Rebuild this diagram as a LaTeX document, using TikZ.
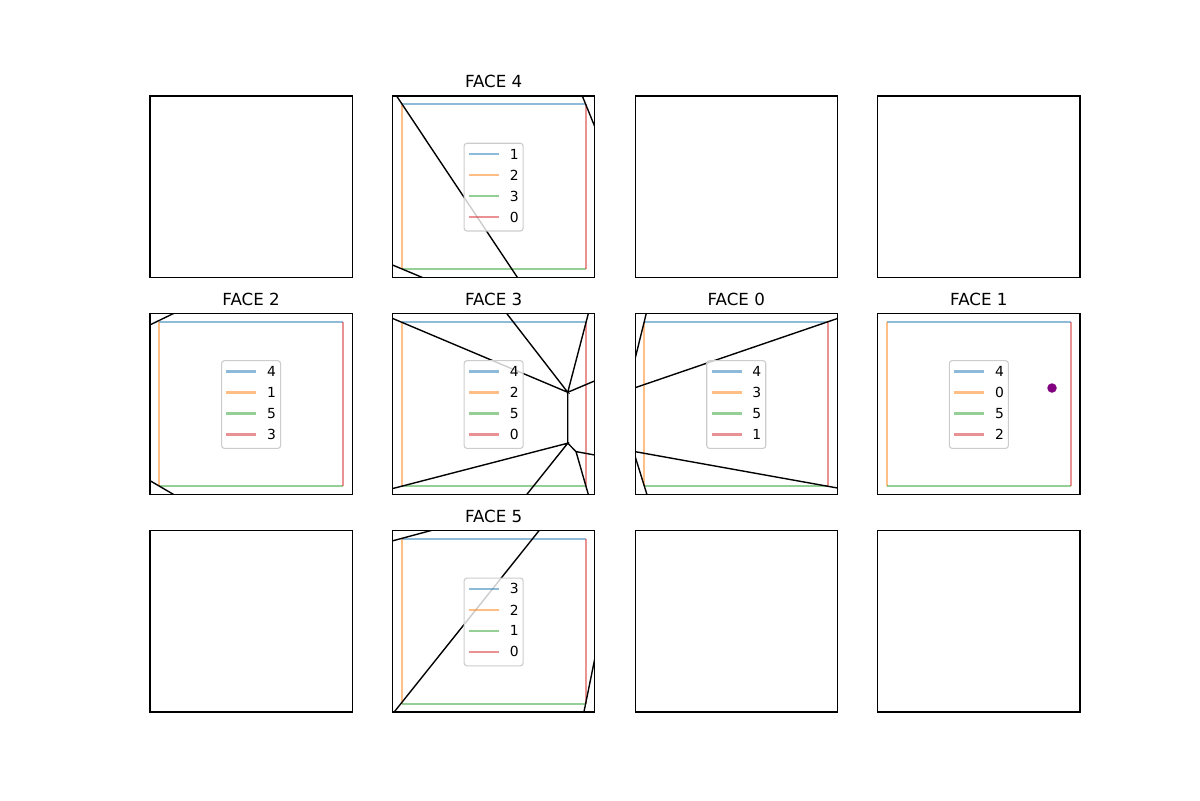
\documentclass[tikz,border=0pt]{standalone}
\usepackage{fontspec}
\setmainfont{DejaVu Sans}
\usetikzlibrary{arrows.meta}
\definecolor{tabblue}{HTML}{1F77B4}
\definecolor{taborange}{HTML}{FF7F0E}
\definecolor{tabgreen}{HTML}{2CA02C}
\definecolor{tabred}{HTML}{D62728}
\definecolor{seedpurple}{RGB}{128,0,128}
\tikzset{
	axbox/.style={draw=black, line width=0.0222cm},
	face/.style={x=3.6758cm, y=3.2942cm},
	rim/.style={line width=0.0417cm, draw opacity=0.5},
	cell/.style={draw=black, line width=0.0278cm},
	facetitle/.style={anchor=base, inner sep=0, font=\fontsize{9.49}{11}\selectfont},
	keybox/.style={draw=black!20, fill=white, fill opacity=0.8, rounded corners=0.056cm, line width=0.0222cm},
	keytext/.style={anchor=west, inner sep=0, font=\fontsize{7.9}{9}\selectfont},
	seedpt/.style={circle, fill=seedpurple, inner sep=0, minimum size=0.19cm},
	pics/squareedges/.style={code={
		\draw[rim,tabblue] (0,1) -- (1,1);
		\draw[rim,taborange] (0,0) -- (0,1);
		\draw[rim,tabgreen] (0,0) -- (1,0);
		\draw[rim,tabred] (1,0) -- (1,1);
	}},
	pics/facekey/.style n args={4}{code={
		\begin{scope}[x=0.02cm, y=0.02cm]
			\draw[keybox] (-29.5,-44.4) rectangle (29.5,43.3);
			\foreach \lab/\col/\yy [count=\i] in {#1/tabblue/32.5, #2/taborange/11.5, #3/tabgreen/-9.5, #4/tabred/-30.5}{
				\draw[rim,\col] (-24.7,\yy) -- (5.3,\yy);
				\node[keytext] (-k\i) at (15.8,\yy) {\lab};
			}
		\end{scope}
	}}
}

\begin{document}
\begin{tikzpicture}
	\useasboundingbox (0,0) rectangle (24,16);
	
	%%%% empty panels
	\foreach \px/\py in {3/10.4565, 12.7035/10.4565, 17.5552/10.4565, 3/1.76, 12.7035/1.76, 17.5552/1.76}
		\draw[axbox] (\px,\py) rectangle ++(4.0434,3.6236);
	
	%%%% FACE 4
	\begin{scope}[shift={(7.8517,10.4565)}, face, shift={(0.05,0.05)}]
		\pic {squareedges};
		\begin{scope}
			\clip (-0.05,-0.05) rectangle (1.05,1.05);
			\draw[cell] (-0.058,1.1) -- (0.658,-0.1);
			\draw[cell] (0.964,1.1) -- (1.1,0.727);
			\draw[cell] (-0.1,0.047) -- (0.215,-0.1);
		\end{scope}
		\pic (f4) at (0.5,0.5) {facekey={1}{2}{3}{0}};
		\draw[axbox] (-0.05,-0.05) rectangle (1.05,1.05);
		\node[facetitle] (t4) at (0.5,1.1006) {FACE 4};
	\end{scope}
	
	%%%% FACE 2
	\begin{scope}[shift={(3,6.1082)}, face, shift={(0.05,0.05)}]
		\pic {squareedges};
		\begin{scope}
			\clip (-0.05,-0.05) rectangle (1.05,1.05);
			\draw[cell] (-0.1,0.953) -- (0.171,1.1);
			\draw[cell] (-0.1,0.067) -- (0.156,-0.1);
		\end{scope}
		\pic (f2) at (0.5,0.5) {facekey={4}{1}{5}{3}};
		\draw[axbox] (-0.05,-0.05) rectangle (1.05,1.05);
		\node[facetitle] (t2) at (0.5,1.1006) {FACE 2};
	\end{scope}
	
	%%%% FACE 3
	\begin{scope}[shift={(7.8517,6.1082)}, face, shift={(0.05,0.05)}]
		\pic {squareedges};
		\begin{scope}
			\clip (-0.05,-0.05) rectangle (1.05,1.05);
			\coordinate (v1) at (0.903,0.571);
			\coordinate (v2) at (0.903,0.262);
			\coordinate (v3) at (0.948,0.211);
			\draw[cell] (-0.1,1.043) -- (v1) -- (0.536,1.1);
			\draw[cell] (1.027,1.1) -- (v1) -- (1.1,0.664);
			\draw[cell] (v1) -- (v2) -- (v3);
			\draw[cell] (-0.1,-0.028) -- (v2) -- (0.644,-0.1);
			\draw[cell] (1.1,0.180) -- (v3) -- (1.028,-0.1);
		\end{scope}
		\pic (f3) at (0.5,0.5) {facekey={4}{2}{5}{0}};
		\draw[axbox] (-0.05,-0.05) rectangle (1.05,1.05);
		\node[facetitle] (t3) at (0.5,1.1006) {FACE 3};
	\end{scope}
	
	%%%% FACE 0
	\begin{scope}[shift={(12.7035,6.1082)}, face, shift={(0.05,0.05)}]
		\pic {squareedges};
		\begin{scope}
			\clip (-0.05,-0.05) rectangle (1.05,1.05);
			\draw[cell] (0.0215,1.1) -- (-0.1,0.552);
			\draw[cell] (-0.1,0.580) -- (1.1,1.038);
			\draw[cell] (-0.1,0.2205) -- (1.1,-0.020);
			\draw[cell] (-0.1,0.360) -- (0.028,-0.1);
		\end{scope}
		\pic (f0) at (0.5,0.5) {facekey={4}{3}{5}{1}};
		\draw[axbox] (-0.05,-0.05) rectangle (1.05,1.05);
		\node[facetitle] (t0) at (0.5,1.1006) {FACE 0};
	\end{scope}
	
	%%%% FACE 1
	\begin{scope}[shift={(17.5552,6.1082)}, face, shift={(0.05,0.05)}]
		\pic {squareedges};
		\pic (f1) at (0.5,0.5) {facekey={4}{0}{5}{2}};
		\node[seedpt] (p1) at (0.898,0.597) {};
		\draw[axbox] (-0.05,-0.05) rectangle (1.05,1.05);
		\node[facetitle] (t1) at (0.5,1.1006) {FACE 1};
	\end{scope}
	
	%%%% FACE 5
	\begin{scope}[shift={(7.8517,1.76)}, face, shift={(0.05,0.05)}]
		\pic {squareedges};
		\begin{scope}
			\clip (-0.05,-0.05) rectangle (1.05,1.05);
			\draw[cell] (-0.1,0.974) -- (0.32,1.1);
			\draw[cell] (-0.077,-0.1) -- (0.782,1.1);
			\draw[cell] (0.982,-0.1) -- (1.1,0.547);
		\end{scope}
		\pic (f5) at (0.5,0.5) {facekey={3}{2}{1}{0}};
		\draw[axbox] (-0.05,-0.05) rectangle (1.05,1.05);
		\node[facetitle] (t5) at (0.5,1.1006) {FACE 5};
	\end{scope}
\end{tikzpicture}
\end{document}
